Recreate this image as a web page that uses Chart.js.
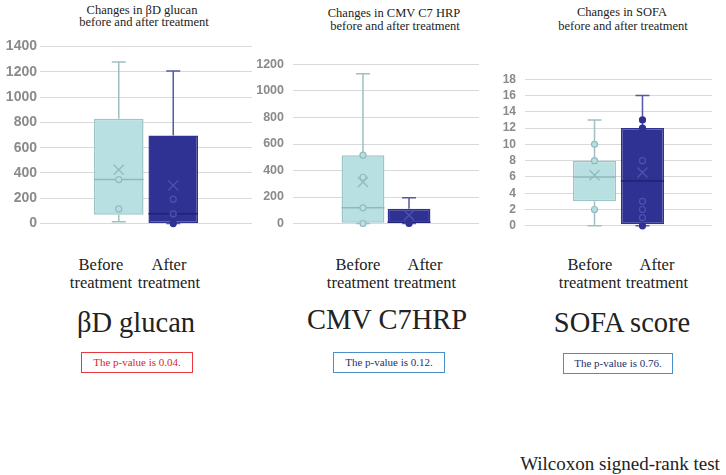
<!DOCTYPE html>
<html lang="en">

<head>
  <meta charset="UTF-8">
  <title>Before / after treatment box plots</title>
  <script src="https://cdn.jsdelivr.net/npm/chart.js"></script>
  <style>
    body { margin: 0; background: #fff; }
    #page { position: relative; width: 726px; height: 475px; overflow: hidden; font-family: "Liberation Serif", "Times New Roman", serif; color: #222; }
    .wrap { position: absolute; }
    .txt { position: absolute; transform: translate(-50%, -50%); white-space: nowrap; line-height: 1; text-align: center; font-family: "Liberation Serif", "Times New Roman", serif; }
    .title { font-size: 12.5px; }
    .cat { font-size: 16.5px; line-height: 18px; }
    .big { font-size: 28.5px; }
    .pval { position: absolute; box-sizing: border-box; width: 112px; height: 21px; font-size: 11px; line-height: 18px; text-align: center; border: 1.5px solid #4a8fc7; color: #1f2f6b; }
  </style>
</head>

<body>
  <div id="page">
    <!-- panel titles -->
    <div class="txt title" style="left:142px;top:10px">Changes in βD glucan</div>
    <div class="txt title" style="left:144px;top:22px">before and after treatment</div>
    <div class="txt title" style="left:394px;top:13px">Changes in CMV C7 HRP</div>
    <div class="txt title" style="left:395px;top:26px">before and after treatment</div>
    <div class="txt title" style="left:622px;top:12px">Changes in SOFA</div>
    <div class="txt title" style="left:623px;top:26px">before and after treatment</div>

    <!-- charts -->
    <div class="wrap" style="left:0;top:35px;width:260px;height:200px"><canvas id="glucanChart"></canvas></div>
    <div class="wrap" style="left:250px;top:48px;width:236px;height:192px"><canvas id="cmvChart"></canvas></div>
    <div class="wrap" style="left:490px;top:63px;width:230px;height:179px"><canvas id="sofaChart"></canvas></div>

    <!-- group labels -->
    <div class="txt cat" style="left:101px;top:274px">Before<br>treatment</div>
    <div class="txt cat" style="left:169px;top:274px">After<br>treatment</div>
    <div class="txt cat" style="left:358px;top:274px">Before<br>treatment</div>
    <div class="txt cat" style="left:425px;top:274px">After<br>treatment</div>
    <div class="txt cat" style="left:590px;top:274px">Before<br>treatment</div>
    <div class="txt cat" style="left:657px;top:274px">After<br>treatment</div>

    <div class="txt big" style="left:136px;top:323px">βD glucan</div>
    <div class="txt big" style="left:387px;top:320px">CMV C7HRP</div>
    <div class="txt big" style="left:622px;top:323px">SOFA score</div>

    <div class="pval" style="left:81px;top:352px;border-color:#e8383d;color:#e0242b">The p-value is 0.04.</div>
    <div class="pval" style="left:333px;top:352px">The p-value is 0.12.</div>
    <div class="pval" style="left:563px;top:353px;width:110px">The p-value is 0.76.</div>

    <div class="txt" style="left:620px;top:463px;font-size:19px">Wilcoxon signed-rank test</div>
  </div>

  <script>
    // groups: [before, after]
    const categories = ['Before treatment', 'After treatment'];

    // βD glucan
    const glucanMin = [15, 0];
    const glucanQ1 = [70, 0];
    const glucanMedian = [348, 77];
    const glucanQ3 = [828, 696];
    const glucanMax = [1276, 1206];
    const glucanMean = [425, 302];
    const glucanPoints = [[348, 116], [193, 77, 0]];
    const glucanTicks = [0, 200, 400, 600, 800, 1000, 1200, 1400];

    // CMV C7HRP
    const cmvMin = [0, 0];
    const cmvQ1 = [5, 3];
    const cmvMedian = [118, 10];
    const cmvQ3 = [516, 112];
    const cmvMax = [1130, 195];
    const cmvMean = [314, 63];
    const cmvPoints = [[516, 349, 118, 0], [0]];
    const cmvTicks = [0, 200, 400, 600, 800, 1000, 1200];

    // SOFA score
    const sofaMin = [0, 0];
    const sofaQ1 = [3, 0.2];
    const sofaMedian = [6, 5.5];
    const sofaQ3 = [8, 12];
    const sofaMax = [13, 16];
    const sofaMean = [6.2, 6.55];
    const sofaPoints = [[10, 8, 2], [13, 12, 8, 3, 2, 1, 0]];
    const sofaTicks = [0, 2, 4, 6, 8, 10, 12, 14, 16, 18];

    const looks = [
      { fill: '#b8e0e3', edge: '#9cc5c8', whisker: '#9fbfc1', median: '#8fb8bb', mark: '#92bbbf', dotFill: '#b8e0e3' },
      { fill: '#2f3293', edge: '#2f3293', whisker: '#5558a8', median: '#1f2272', mark: '#4f52ab', dotFill: '#2f3293' }
    ];

    // draws whiskers, median, mean cross and points on top of the floating bars
    const boxWhisker = {
      id: 'boxWhisker',
      afterDatasetsDraw(chart) {
        const ctx = chart.ctx;
        const y = chart.scales.y;
        chart.data.datasets.forEach((ds, i) => {
          const bar = chart.getDatasetMeta(i).data[0];
          const s = ds.stats;
          const look = looks[i];
          const x = bar.x;
          const half = bar.width / 2;
          const cap = 7;
          ctx.save();
          ctx.lineWidth = 1.5;
          ctx.strokeStyle = look.whisker;
          ctx.beginPath();
          ctx.moveTo(x, y.getPixelForValue(s.q3));
          ctx.lineTo(x, y.getPixelForValue(s.max));
          ctx.moveTo(x - cap, y.getPixelForValue(s.max));
          ctx.lineTo(x + cap, y.getPixelForValue(s.max));
          ctx.moveTo(x, y.getPixelForValue(s.q1));
          ctx.lineTo(x, y.getPixelForValue(s.min));
          ctx.moveTo(x - cap, y.getPixelForValue(s.min));
          ctx.lineTo(x + cap, y.getPixelForValue(s.min));
          ctx.stroke();

          // median
          ctx.strokeStyle = look.median;
          ctx.beginPath();
          ctx.moveTo(x - half, y.getPixelForValue(s.median));
          ctx.lineTo(x + half, y.getPixelForValue(s.median));
          ctx.stroke();

          // points
          ctx.lineWidth = 1.2;
          s.points.forEach(v => {
            const py = y.getPixelForValue(v);
            const inside = v > s.q1 && v < s.q3;
            ctx.beginPath();
            ctx.arc(x, py, 3, 0, Math.PI * 2);
            ctx.fillStyle = inside || i === 0 ? look.dotFill : look.fill;
            ctx.fill();
            ctx.strokeStyle = (inside || i === 0) ? look.mark : look.fill;
            ctx.stroke();
          });

          // mean cross
          const my = y.getPixelForValue(s.mean);
          const r = 5;
          ctx.strokeStyle = look.mark;
          ctx.lineWidth = 1.4;
          ctx.beginPath();
          ctx.moveTo(x - r, my - r);
          ctx.lineTo(x + r, my + r);
          ctx.moveTo(x + r, my - r);
          ctx.lineTo(x - r, my + r);
          ctx.stroke();
          ctx.restore();
        });
      }
    };

    function makeChart(id, min, q1, median, q3, max, mean, points, ticks, cfg) {
      const datasets = categories.map((name, i) => ({
        label: name,
        data: [[q1[i], q3[i]]],
        backgroundColor: looks[i].fill,
        borderColor: looks[i].edge,
        borderWidth: 1.5,
        borderSkipped: false,
        categoryPercentage: cfg.cp,
        barPercentage: cfg.bp,
        stats: { min: min[i], q1: q1[i], median: median[i], q3: q3[i], max: max[i], mean: mean[i], points: points[i] }
      }));

      return new Chart(document.getElementById(id), {
        type: 'bar',
        data: { labels: ['all'], datasets: datasets },
        plugins: [boxWhisker],
        options: {
          responsive: true,
          maintainAspectRatio: false,
          animation: false,
          layout: { padding: { top: 10, bottom: cfg.bottom, left: 0, right: cfg.right } },
          plugins: { legend: { display: false }, tooltip: { enabled: false } },
          scales: {
            x: { display: false },
            y: {
              min: ticks[0],
              max: ticks[ticks.length - 1],
              afterFit: scale => { scale.width = cfg.axisWidth; },
              afterBuildTicks: scale => { scale.ticks = ticks.map(v => ({ value: v })); },
              border: { display: false },
              grid: { color: '#d9d9d9', lineWidth: 1, drawTicks: false },
              ticks: {
                padding: cfg.tickPad,
                color: '#8a8a8a',
                callback: v => String(v),
                font: { family: '"Liberation Sans", Arial, sans-serif', size: cfg.tickSize, weight: 'bold' }
              }
            }
          }
        }
      });
    }

    makeChart('glucanChart', glucanMin, glucanQ1, glucanMedian, glucanQ3, glucanMax, glucanMean, glucanPoints, glucanTicks,
      { axisWidth: 40, right: 8, bottom: 9, tickPad: 3, tickSize: 14, cp: 0.514, bp: 0.91 });
    makeChart('cmvChart', cmvMin, cmvQ1, cmvMedian, cmvQ3, cmvMax, cmvMean, cmvPoints, cmvTicks,
      { axisWidth: 43, right: 7, bottom: 10, tickPad: 9, tickSize: 12.5, cp: 0.495, bp: 0.93 });
    makeChart('sofaChart', sofaMin, sofaQ1, sofaMedian, sofaQ3, sofaMax, sofaMean, sofaPoints, sofaTicks,
      { axisWidth: 35, right: 8, bottom: 10, tickPad: 9, tickSize: 12, cp: 0.513, bp: 0.9 });
  </script>
</body>

</html>
